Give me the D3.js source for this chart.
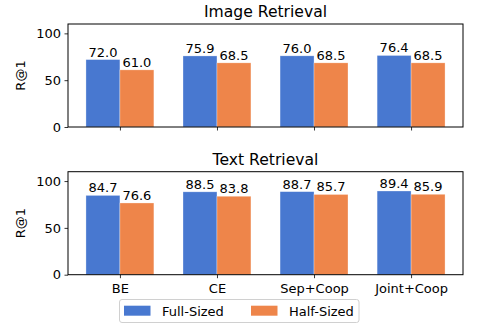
<!DOCTYPE html>
<html>
<head>
<meta charset="utf-8">
<script src="https://cdn.jsdelivr.net/npm/d3@7"></script>
<style>
  body { margin: 0; background: #fff; }
  text { font-family: "DejaVu Sans", sans-serif; }
</style>
</head>
<body>
<div id="chart"></div>
<script>
// ----------------------------------------------------------------------
// data

var categories = ["BE", "CE", "Sep+Coop", "Joint+Coop"];
var seriesNames = ["Full-Sized", "Half-Sized"];
var colors = ["#4878d0", "#ee854a"];

var imageFull = [72.0, 75.9, 76.0, 76.4];
var imageHalf = [61.0, 68.5, 68.5, 68.5];
var textFull = [84.7, 88.5, 88.7, 89.4];
var textHalf = [76.6, 83.8, 85.7, 85.9];

var yTicks = [0, 50, 100];

var panels = [
    {title: "Image Retrieval", series: [imageFull, imageHalf], top: 24, bottom: 127, xLabels: false},
    {title: "Text Retrieval", series: [textFull, textHalf], top: 171.7, bottom: 274.7, xLabels: true}
];

// ----------------------------------------------------------------------

var width = 479, height = 330;
var left = 68, right = 463;
var barWidth = 0.35;

var svg = d3.select("#chart")
            .append("svg")
            .attr("width", width)
            .attr("height", height);

var x = d3.scaleLinear()
          .domain([-0.535, categories.length - 1 + 0.535])
          .range([left, right]);

panels.forEach(function(p) {
    var y = d3.scaleLinear().domain([0, 110]).range([p.bottom, p.top]);
    var g = svg.append("g");

    // bars
    p.series.forEach(function(vals, s) {
        var off = s === 0 ? -barWidth : 0;
        g.selectAll(null)
         .data(vals)
         .enter()
         .append("rect")
         .attr("x", function(d, i) { return x(i + off); })
         .attr("y", function(d) { return y(d); })
         .attr("width", x(barWidth) - x(0))
         .attr("height", function(d) { return y(0) - y(d); })
         .attr("fill", colors[s])
         .attr("stroke", "#fff")
         .attr("stroke-opacity", 0.5)
         .attr("stroke-width", 0.6);

        g.selectAll(null)
         .data(vals)
         .enter()
         .append("text")
         .attr("x", function(d, i) { return x(i + off + barWidth / 2); })
         .attr("y", function(d) { return y(d) - 3; })
         .attr("text-anchor", "middle")
         .attr("font-size", 13)
         .attr("fill", "#000")
         .text(function(d) { return d.toFixed(1); });
    });

    // y axis
    var yAxis = d3.axisLeft(y).tickValues(yTicks).tickSize(3.5).tickPadding(3.5);
    var ya = g.append("g").attr("transform", "translate(" + left + ",0)").call(yAxis);
    ya.select(".domain").remove();
    ya.selectAll("text").attr("font-size", 13).attr("font-family", "DejaVu Sans").attr("fill", "#000");
    ya.selectAll("line").attr("stroke", "#000").attr("stroke-width", 0.8);

    // x axis
    var xAxis = d3.axisBottom(x).tickValues(d3.range(categories.length)).tickSize(3.5).tickPadding(5.5)
                  .tickFormat(function(i) { return p.xLabels ? categories[i] : ""; });
    var xa = g.append("g").attr("transform", "translate(0," + p.bottom + ")").call(xAxis);
    xa.select(".domain").remove();
    xa.selectAll("text").attr("font-size", 13).attr("font-family", "DejaVu Sans").attr("fill", "#000");
    xa.selectAll("line").attr("stroke", "#000").attr("stroke-width", 0.8);

    // frame
    g.append("rect")
     .attr("x", left)
     .attr("y", p.top)
     .attr("width", right - left)
     .attr("height", p.bottom - p.top)
     .attr("fill", "none")
     .attr("stroke", "#000")
     .attr("stroke-width", 1);

    // title
    g.append("text")
     .attr("x", (left + right) / 2)
     .attr("y", p.top - 7)
     .attr("text-anchor", "middle")
     .attr("font-size", 15.6)
     .text(p.title);

    // y label
    g.append("text")
     .attr("transform", "translate(25," + ((p.top + p.bottom) / 2) + ") rotate(-90)")
     .attr("text-anchor", "middle")
     .attr("font-size", 13)
     .text("R@1");
});

// legend
var lg = svg.append("g");
lg.append("rect")
  .attr("x", 119.5).attr("y", 299.5)
  .attr("width", 239.5).attr("height", 23)
  .attr("rx", 2.5)
  .attr("fill", "#fff")
  .attr("stroke", "#d0d0d0")
  .attr("stroke-width", 1);

var legendX = [124, 251];
seriesNames.forEach(function(name, s) {
    lg.append("rect")
      .attr("x", legendX[s]).attr("y", 305.7)
      .attr("width", 26.5).attr("height", 10)
      .attr("fill", colors[s]);
    lg.append("text")
      .attr("x", legendX[s] + 38)
      .attr("y", 315.5)
      .attr("font-size", 13)
      .text(name);
});
</script>
</body>
</html>
